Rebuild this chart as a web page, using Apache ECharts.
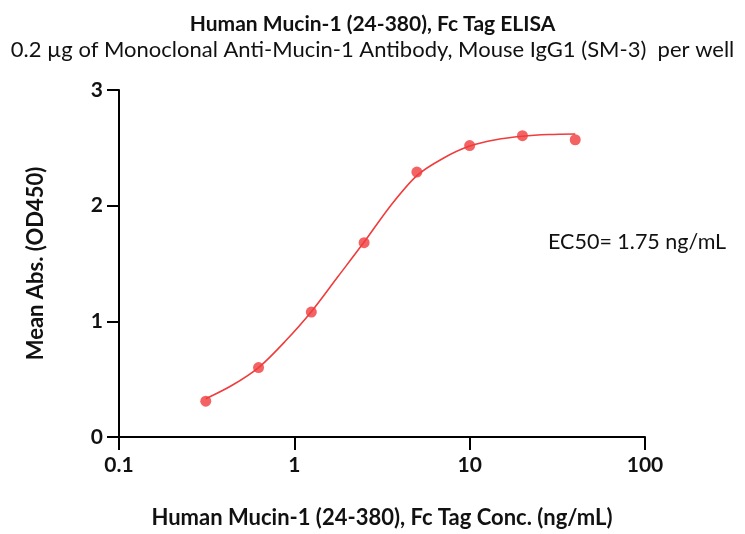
<!DOCTYPE html>
<html>
<head>
<meta charset="utf-8">
<script src="https://cdn.jsdelivr.net/npm/echarts@6/dist/echarts.min.js"></script>
<style>html,body{margin:0;padding:0;background:#fff}#c{width:745px;height:534px}</style>
</head>
<body>
<div id="c"></div>
<script>
const concentrations = [0.3125, 0.625, 1.25, 2.5, 5, 10, 20, 40];
const meanAbs = [0.31, 0.60, 1.08, 1.68, 2.29, 2.52, 2.605, 2.57];
// fitted curve
const curveConc = [0.3125, 0.442, 0.625, 0.884, 1.25, 1.77, 2.5, 3.54, 5, 7.07, 10, 14.1, 20, 28.3, 40];
const curveAbs  = [0.33, 0.447, 0.60, 0.825, 1.083, 1.385, 1.685, 2.0, 2.26, 2.41, 2.515, 2.57, 2.60, 2.615, 2.62];
const xTicks = [0.1, 1, 10, 100];
const yTicks = [0, 1, 2, 3];

const FONT = 'Lato, "Open Sans", sans-serif';
const RED = '#f03c3c';
const chart = echarts.init(document.getElementById('c'));
chart.setOption({
  backgroundColor: '#fff',
  animation: false,
  title: [
    {text: 'Human Mucin-1 (24-380), Fc Tag ELISA', left: 'center', top: 9,
     textStyle: {fontFamily: FONT, fontSize: 21, fontWeight: 'bold', color: '#111'}},
    {text: '0.2 µg of Monoclonal Anti-Mucin-1 Antibody, Mouse IgG1 (SM-3)  per well', left: 'center', top: 34,
     textStyle: {fontFamily: FONT, fontSize: 22, fontWeight: 'normal', color: '#111'}}
  ],
  grid: {left: 119, right: 100, top: 90, bottom: 95},
  xAxis: {
    type: 'log', logBase: 10, min: xTicks[0], max: xTicks[xTicks.length - 1],
    name: 'Human Mucin-1 (24-380), Fc Tag Conc. (ng/mL)', nameLocation: 'middle', nameGap: 70,
    nameTextStyle: {fontFamily: FONT, fontSize: 22, fontWeight: 'bold', color: '#111'},
    axisLine: {lineStyle: {color: '#000', width: 2}},
    axisTick: {length: 13, lineStyle: {color: '#000', width: 2}},
    minorTick: {show: false},
    splitLine: {show: false},
    axisLabel: {fontFamily: FONT, fontSize: 21, fontWeight: 'bold', color: '#111', margin: 18,
      formatter: v => String(v)}
  },
  yAxis: {
    type: 'value', min: yTicks[0], max: yTicks[yTicks.length - 1], interval: 1,
    name: 'Mean Abs. (OD450)', nameLocation: 'middle', nameGap: 72,
    nameTextStyle: {fontFamily: FONT, fontSize: 22, fontWeight: 'bold', color: '#111'},
    axisLine: {show: true, lineStyle: {color: '#000', width: 2}},
    axisTick: {show: true, length: 12, lineStyle: {color: '#000', width: 2}},
    splitLine: {show: false},
    axisLabel: {fontFamily: FONT, fontSize: 21, fontWeight: 'bold', color: '#111', margin: 16}
  },
  graphic: [
    {type: 'text', left: 548, top: 231,
     style: {text: 'EC50= 1.75 ng/mL', fontFamily: FONT, fontSize: 21.5, fill: '#111'}}
  ],
  series: [
    {type: 'line', data: curveConc.map((c, i) => [c, curveAbs[i]]), smooth: 0.3,
     showSymbol: false, lineStyle: {color: RED, width: 1.6}, z: 2},
    {type: 'scatter', data: concentrations.map((c, i) => [c, meanAbs[i]]),
     symbolSize: 11, itemStyle: {color: RED}, z: 3}
  ]
});
</script>
</body>
</html>
